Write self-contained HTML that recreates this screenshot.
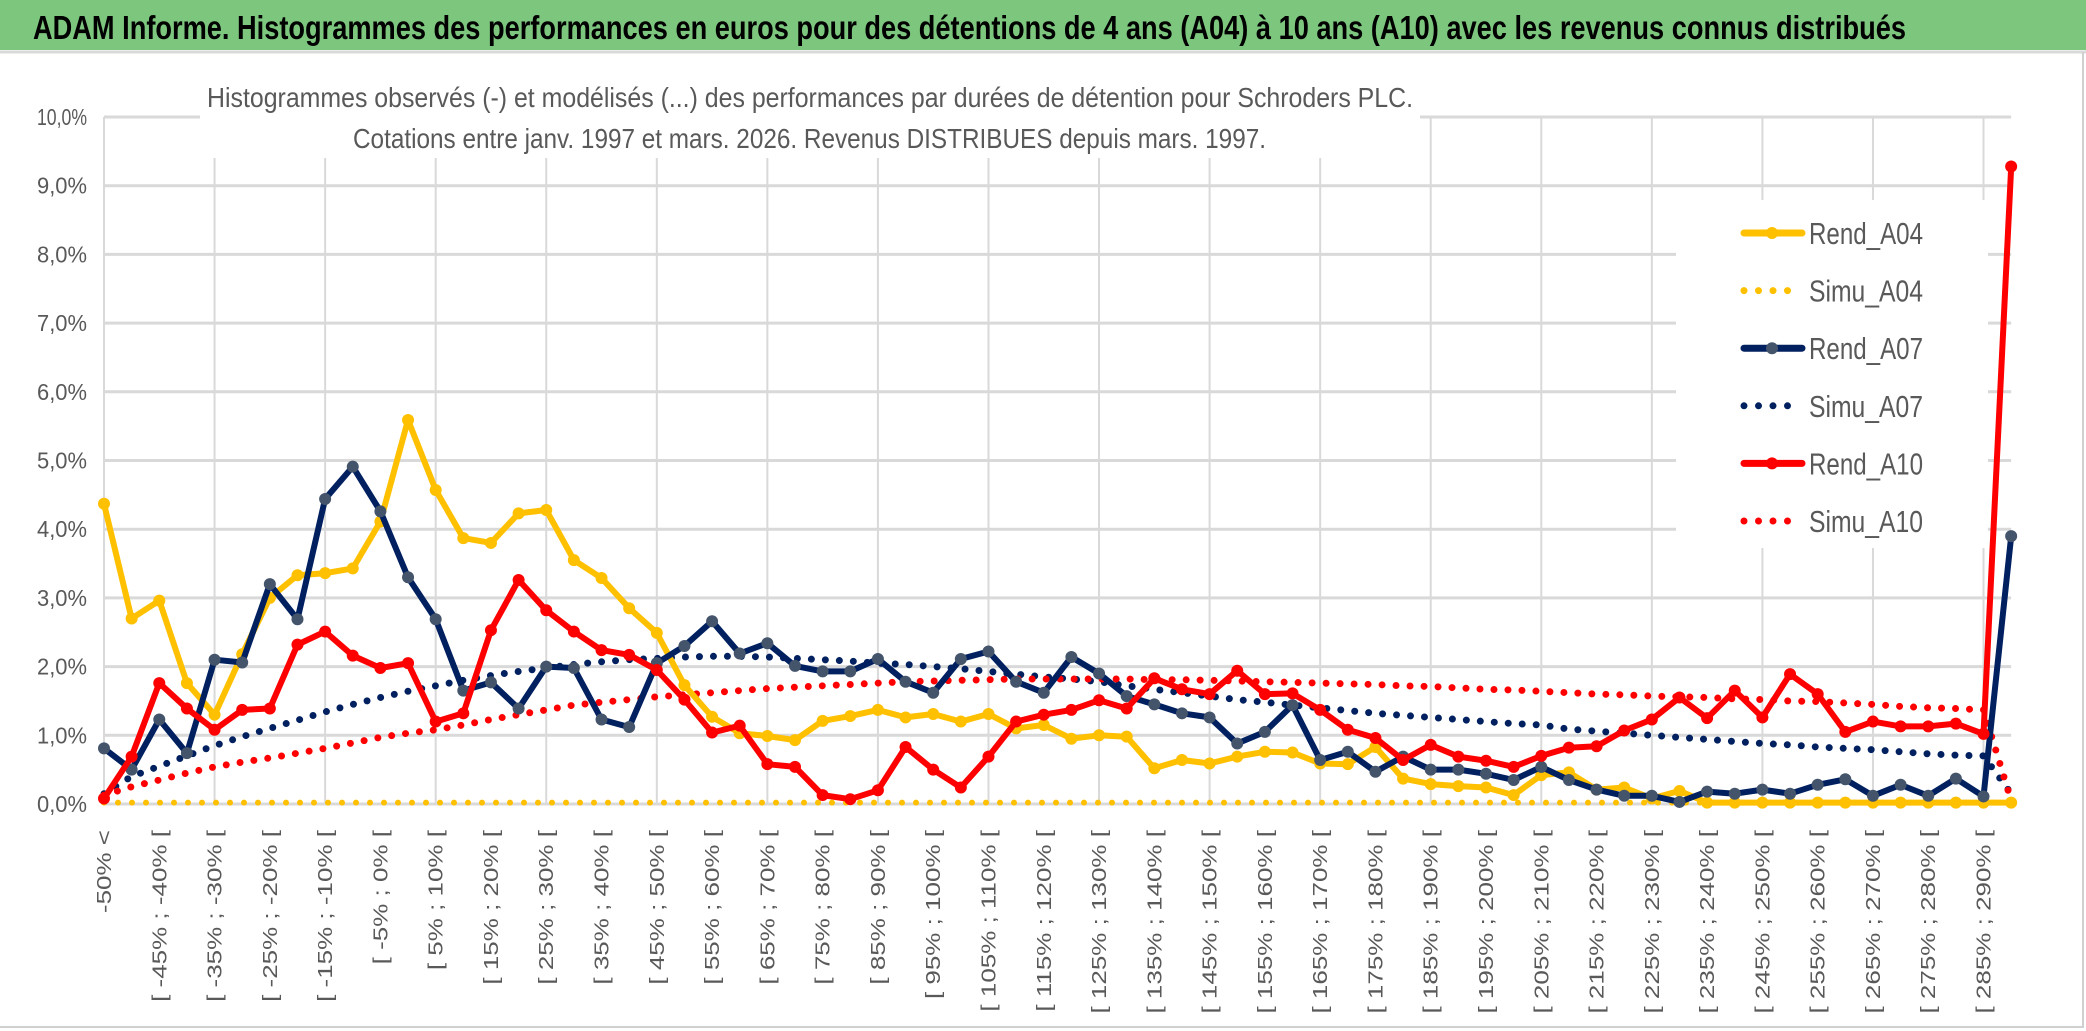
<!DOCTYPE html>
<html><head><meta charset="utf-8">
<style>
html,body{margin:0;padding:0;background:#fff;}
svg{display:block;}
text{font-family:"Liberation Sans",sans-serif;}
</style></head>
<body>
<svg id="chart" width="2086" height="1031" viewBox="0 0 2086 1031" xmlns="http://www.w3.org/2000/svg">
  <rect x="0" y="0" width="2086" height="50" fill="#7DC67E"/>
  <line x1="0" y1="52" x2="2086" y2="52" stroke="#d9d9d9" stroke-width="3"/>
  <text x="33" y="39" font-size="33" font-weight="bold" fill="#000" textLength="1873" lengthAdjust="spacingAndGlyphs">ADAM Informe. Histogrammes des performances en euros pour des détentions de 4 ans (A04) à 10 ans (A10) avec les revenus connus distribués</text>
  <line x1="2083" y1="52" x2="2083" y2="1028" stroke="#d0d0d0" stroke-width="2"/>
  <line x1="0" y1="1027" x2="2083" y2="1027" stroke="#d0d0d0" stroke-width="2"/>
  <g id="grid"></g>
  <rect x="200" y="58" width="1220" height="100" fill="#fff"/>
  <text x="207" y="107" font-size="28" fill="#595959" textLength="1206" lengthAdjust="spacingAndGlyphs">Histogrammes observés (-) et modélisés (...) des performances par durées de détention pour Schroders PLC.</text>
  <text x="353" y="148" font-size="28" fill="#595959" textLength="913" lengthAdjust="spacingAndGlyphs">Cotations entre janv. 1997 et mars. 2026. Revenus DISTRIBUES depuis mars. 1997.</text>
  <g id="yaxis"></g>
  <g id="xaxis"></g>
  <g id="series"></g>
  <g id="legend"></g>
</svg>
<script>
const categoriesCount = 70;
const yTicks = [0,1,2,3,4,5,6,7,8,9,10];
const yTickLabels = ["0,0%","1,0%","2,0%","3,0%","4,0%","5,0%","6,0%","7,0%","8,0%","9,0%","10,0%"];
const rendA04 = [4.37,2.70,2.96,1.76,1.30,2.18,3.00,3.33,3.36,3.43,4.11,5.59,4.57,3.87,3.80,4.23,4.28,3.55,3.29,2.85,2.49,1.73,1.27,1.03,0.99,0.93,1.21,1.28,1.37,1.26,1.31,1.20,1.31,1.10,1.15,0.95,1.00,0.98,0.52,0.64,0.59,0.69,0.76,0.75,0.59,0.58,0.83,0.37,0.29,0.26,0.24,0.13,0.42,0.46,0.21,0.24,0.08,0.19,0.02,0.02,0.02,0.02,0.02,0.02,0.02,0.02,0.02,0.02,0.02,0.02];
const rendA07 = [0.81,0.50,1.23,0.74,2.10,2.06,3.20,2.69,4.44,4.91,4.26,3.30,2.69,1.65,1.77,1.39,2.00,1.98,1.23,1.12,2.05,2.30,2.66,2.19,2.34,2.01,1.93,1.93,2.11,1.78,1.62,2.11,2.22,1.78,1.62,2.14,1.90,1.57,1.45,1.32,1.26,0.88,1.05,1.44,0.64,0.76,0.47,0.69,0.50,0.50,0.44,0.35,0.54,0.35,0.21,0.12,0.12,0.03,0.18,0.15,0.21,0.15,0.28,0.36,0.12,0.28,0.12,0.37,0.11,3.90];
const rendA10 = [0.08,0.69,1.76,1.39,1.08,1.37,1.39,2.32,2.51,2.16,1.98,2.05,1.20,1.32,2.53,3.26,2.82,2.51,2.24,2.17,1.95,1.52,1.04,1.14,0.58,0.54,0.13,0.07,0.20,0.83,0.50,0.24,0.69,1.20,1.30,1.37,1.51,1.39,1.83,1.67,1.60,1.94,1.60,1.61,1.37,1.08,0.96,0.64,0.86,0.69,0.63,0.54,0.70,0.82,0.84,1.07,1.23,1.55,1.25,1.65,1.26,1.89,1.60,1.05,1.20,1.13,1.13,1.17,1.02,9.28];
const simuA04 = [0.02,0.02,0.02,0.02,0.02,0.02,0.02,0.02,0.02,0.02,0.02,0.02,0.02,0.02,0.02,0.02,0.02,0.02,0.02,0.02,0.02,0.02,0.02,0.02,0.02,0.02,0.02,0.02,0.02,0.02,0.02,0.02,0.02,0.02,0.02,0.02,0.02,0.02,0.02,0.02,0.02,0.02,0.02,0.02,0.02,0.02,0.02,0.02,0.02,0.02,0.02,0.02,0.02,0.02,0.02,0.02,0.02,0.02,0.02,0.02,0.02,0.02,0.02,0.02,0.02,0.02,0.02,0.02,0.02,0.02];
const simuA07 = [0.15,0.40,0.55,0.70,0.85,0.98,1.10,1.22,1.34,1.45,1.55,1.64,1.72,1.80,1.87,1.93,1.98,2.03,2.07,2.10,2.12,2.14,2.15,2.15,2.14,2.12,2.10,2.08,2.05,2.03,2.00,1.97,1.93,1.89,1.85,1.82,1.78,1.72,1.67,1.62,1.57,1.52,1.48,1.44,1.40,1.36,1.32,1.29,1.26,1.23,1.20,1.17,1.15,1.09,1.06,1.03,1.00,0.97,0.94,0.91,0.88,0.86,0.83,0.81,0.79,0.76,0.73,0.71,0.70,0.15];
const simuA10 = [0.13,0.25,0.35,0.45,0.54,0.61,0.67,0.74,0.81,0.89,0.97,1.03,1.08,1.15,1.23,1.30,1.37,1.44,1.48,1.52,1.56,1.59,1.62,1.65,1.68,1.70,1.72,1.74,1.76,1.78,1.79,1.80,1.81,1.82,1.82,1.82,1.82,1.82,1.81,1.81,1.80,1.79,1.78,1.77,1.76,1.75,1.74,1.72,1.71,1.69,1.67,1.66,1.64,1.62,1.60,1.59,1.57,1.56,1.55,1.53,1.52,1.50,1.49,1.47,1.45,1.42,1.40,1.39,1.37,0.05];

const NS = "http://www.w3.org/2000/svg";
const X0 = 104, XSTEP = 27.64, Y0 = 804, YPER = 68.7;
function xs(i){ return X0 + XSTEP*i; }
function ys(v){ return Y0 - YPER*v; }
function mk(tag, attrs, parent){
  const e = document.createElementNS(NS, tag);
  for (const k in attrs) e.setAttribute(k, attrs[k]);
  parent.appendChild(e);
  return e;
}
function catLabel(i){
  if (i === 0) return "-50% <";
  const lo = -50 + 5*(i-1), hi = lo + 5;
  return "[ " + lo + "% ; " + hi + "% [";
}
const grid = document.getElementById('grid');
const xRight = xs(categoriesCount-1);
yTicks.forEach((t) => {
  const g = mk('line', {x1:X0, y1:ys(t), x2:xRight, y2:ys(t), stroke:'#d9d9d9', 'stroke-width':3}, grid);
  
  
});
for (let i = 0; i < categoriesCount; i += 4) {
  const g = mk('line', {x1:xs(i), y1:ys(10), x2:xs(i), y2:ys(0), stroke:'#d9d9d9', 'stroke-width':2}, grid);
  
  
}
const ya = document.getElementById('yaxis');
yTicks.forEach((t, k) => {
  const tx = mk('text', {x:87, y:ys(t)+8, 'font-size':23, fill:'#595959', 'text-anchor':'end', textLength:50, lengthAdjust:'spacingAndGlyphs'}, ya);
  tx.textContent = yTickLabels[k];
  
  
});
const xa = document.getElementById('xaxis');
for (let i = 0; i < categoriesCount; i += 2) {
  const tx = mk('text', {x:0, y:0, 'font-size':20, fill:'#595959', 'text-anchor':'end', transform:'translate(' + (xs(i)+7) + ',830) rotate(-90) scale(1.3,1)'}, xa);
  tx.textContent = catLabel(i);
  
  
}
const ser = document.getElementById('series');
function pts(arr){ return arr.map((v,i)=>xs(i).toFixed(1)+','+ys(v).toFixed(1)).join(' '); }
function dotted(arr, color, name, w){
  const p = mk('polyline', {points:pts(arr), fill:'none', stroke:color, 'stroke-width':w, 'stroke-linecap':'round', 'stroke-dasharray':'0 14'}, ser);
  
  
}
function solid(arr, color, mcolor, name){
  const p = mk('polyline', {points:pts(arr), fill:'none', stroke:color, 'stroke-width':6, 'stroke-linejoin':'round'}, ser);
  
  
  arr.forEach((v,i) => {
    const c = mk('circle', {cx:xs(i), cy:ys(v), r:6, fill:mcolor}, ser);
    
    
  });
}
dotted(simuA04, '#FFC000', 'simu-a04-line', 6);
dotted(simuA07, '#002060', 'simu-a07-line', 7);
dotted(simuA10, '#FF0000', 'simu-a10-line', 7);
solid(rendA04, '#FFC000', '#FFC000', 'rend-a04');
solid(rendA07, '#002060', '#44546A', 'rend-a07');
solid(rendA10, '#FF0000', '#FF0000', 'rend-a10');

const lg = document.getElementById('legend');
const lbg = mk('rect', {x:1676, y:200, width:312, height:348, fill:'#fff'}, lg);


const legendNames = ["Rend_A04","Simu_A04","Rend_A07","Simu_A07","Rend_A10","Simu_A10"];
const legendColors = ["#FFC000","#FFC000","#002060","#002060","#FF0000","#FF0000"];
const legendMarker = ["#FFC000",null,"#44546A",null,"#FF0000",null];
legendNames.forEach((n, k) => {
  const cy = 233 + k*57.6;
  const g = mk('g', {}, lg);
  
  
  if (k % 2 === 0) {
    mk('line', {x1:1744, y1:cy, x2:1802, y2:cy, stroke:legendColors[k], 'stroke-width':7, 'stroke-linecap':'round'}, g);
    mk('circle', {cx:1772, cy:cy, r:6, fill:legendMarker[k]}, g);
  } else {
    const end = k === 5 ? 1802 : 1792;
    mk('line', {x1:1744, y1:cy, x2:end, y2:cy, stroke:legendColors[k], 'stroke-width':7, 'stroke-linecap':'round', 'stroke-dasharray':'0 14.5'}, g);
  }
  const t = mk('text', {x:1809, y:cy+11, 'font-size':31, fill:'#595959', textLength:114, lengthAdjust:'spacingAndGlyphs'}, g);
  t.textContent = n;
});
</script>
</body></html>
